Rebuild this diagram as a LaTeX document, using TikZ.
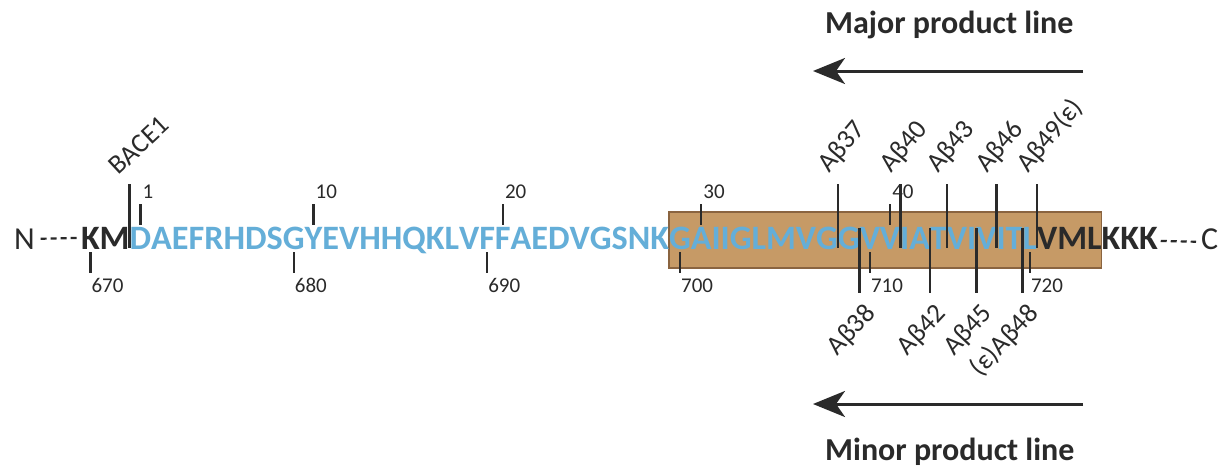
\documentclass[tikz,border=0pt]{standalone}
\usepackage{fontspec}
\setmainfont{Carlito}
\usetikzlibrary{arrows.meta,backgrounds}
\definecolor{seqblue}{HTML}{64AED8}
\definecolor{boxfill}{HTML}{C69A66}
\definecolor{boxedge}{HTML}{8A6440}
\definecolor{ink}{HTML}{2A2A2A}
\begin{document}
\begin{tikzpicture}[x=1pt,y=-1pt,
  res/.style={inner sep=0pt, outer sep=0pt, anchor=base west, font=\fontsize{34.2}{40}\selectfont\bfseries},
  endlet/.style={inner sep=0pt, outer sep=0pt, anchor=base west, text=ink, font=\fontsize{32}{38}\selectfont},
  cut/.style={draw=ink, line width=2.8pt},
  tickmark/.style={draw=ink, line width=2.4pt},
  num/.style={inner sep=0pt, anchor=base west, text=ink, font=\fontsize{21}{25}\selectfont},
  ablab/.style={inner sep=0pt, text=ink, font=\fontsize{27}{31}\selectfont, rotate=50},
  dashline/.style={draw=ink, line width=2.2pt, dash pattern=on 6pt off 4pt},
  prodarrow/.style={draw=ink, line width=3pt, -{Stealth[length=32pt,width=26pt,inset=9pt]}},
  title/.style={inner sep=0pt, anchor=base west, text=ink, font=\fontsize{32}{38}\selectfont\bfseries}
]
\useasboundingbox (0,0) rectangle (1226,466);

% sequence letters
\node[res] (l0) at (80,249) {};
\foreach \c [count=\i, remember=\i as \j (initially 0)] in {K,M,D,A,E,F,R,H,D,S,G,Y,E,V,H,H,Q,K,L,V,F,F,A,E,D,V,G,S,N,K,G,A,I,I,G,L,M,V,G,G,V,V,I,A,T,V,I,V,I,T,L,V,M,L,K,K,K} {
  \ifnum\i<3 \def\colr{ink}\else\ifnum\i>51 \def\colr{ink}\else\def\colr{seqblue}\fi\fi
  \node[res, text=\colr] (l\i) at (l\j.base east) {\c};
}

% termini
\node[endlet] (N) at (14,249) {N};
\node[endlet] (C) at (1201,249) {C};
\draw[dashline] ([xshift=6pt]N.east) -- ([xshift=-2pt]l1.west);
\draw[dashline] ([xshift=3pt,yshift=-3pt]l57.east) -- ([xshift=-5pt,yshift=-3pt]C.west);

% page background and transmembrane box
\begin{scope}[on background layer]
  \fill[white] (0,0) rectangle (1226,466);
  \draw[draw=boxedge, fill=boxfill, line width=1.6pt] (l31.base west |- 0,212) rectangle (l54.base east |- 0,268);
\end{scope}

% upper numbering ticks
\foreach \i/\t in {3/1,12/10,22/20,32/30,42/40} {
  \draw[tickmark] (l\i.north |- 0,204) -- (l\i.north |- 0,225);
  \path (l\i.north |- 0,198) ++(2,0) node[num] (up\t) {\t};
}
% lower numbering ticks
\foreach \i/\t in {1/670,11/680,21/690,31/700,41/710,51/720} {
  \draw[tickmark] (l\i.north |- 0,252) -- (l\i.north |- 0,273);
  \path (l\i.north |- 0,292) ++(1,0) node[num] (lo\t) {\t};
}

% BACE1 cut
\draw[cut] (l2.base east |- 0,184) -- (l2.base east |- 0,248);
\path (l2.base east |- 0,176) ++(-11,0) node[ablab, rotate=-7, anchor=base west] (bace) {BACE1};

% upper gamma-secretase cuts
\foreach \i/\t in {39/37,42/40,45/43,48/46} {
  \draw[cut] (l\i.base east |- 0,184) -- (l\i.base east |- 0,248);
  \path (l\i.base east |- 0,174) ++(-9,0) node[ablab, anchor=base west] (ab\t) {Aβ\t};
}
\draw[cut] (l51.base east |- 0,184) -- (l51.base east |- 0,248);
\path (l51.base east |- 0,174) ++(-9,0) node[ablab, anchor=base west] (ab49) {Aβ49(ε)};

% lower cuts
\foreach \i/\t in {40/Aβ38,44/Aβ42,47/Aβ45,50/(ε)Aβ48} {
  \draw[cut] (l\i.base east |- 0,228) -- (l\i.base east |- 0,293);
  \path (l\i.base east |- 0,314) ++(17,0) node[ablab, rotate=-3, anchor=base east] {\t};
}

% product lines
\coordinate (majS) at (1083,71);
\coordinate (majE) at (813,71);
\draw[prodarrow] (majS) -- (majE);
\node[title] (majT) at (825,33) {Major product line};
\coordinate (minS) at (1083,404);
\coordinate (minE) at (813,404);
\draw[prodarrow] (minS) -- (minE);
\node[title] (minT) at (825,460) {Minor product line};
\end{tikzpicture}
\end{document}
